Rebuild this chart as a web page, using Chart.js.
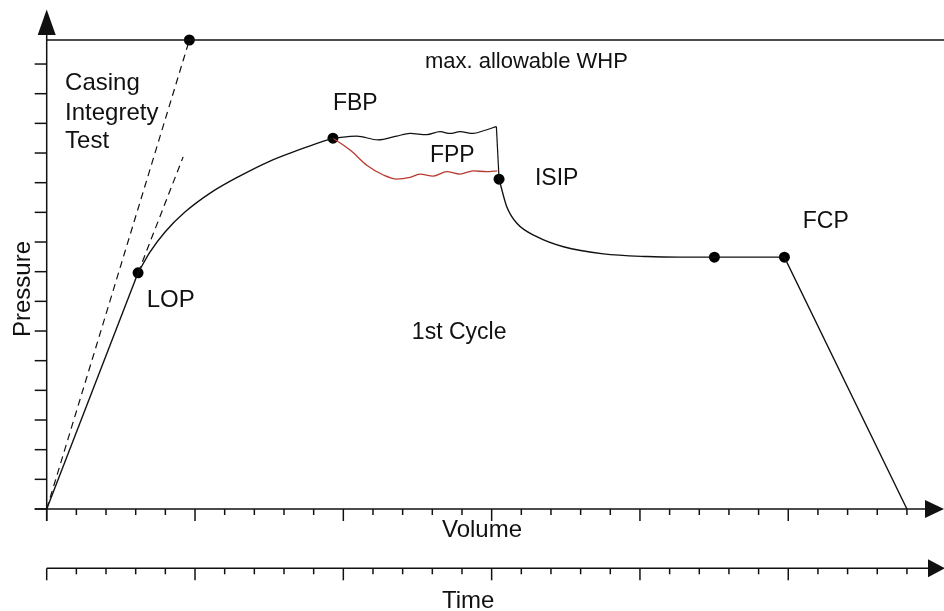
<!DOCTYPE html>
<html>
<head>
<meta charset="utf-8">
<script src="https://cdn.jsdelivr.net/npm/chart.js@4.4.0/dist/chart.umd.min.js"></script>
<style>
  html, body { margin: 0; padding: 0; background: #fff; }
  #wrap { width: 944px; height: 611px; position: relative; }
</style>
</head>
<body>
<div id="wrap"><canvas id="chart"></canvas></div>
<script>
// Schematic units: 1 unit = one minor tick on either axis
const volumeTicks = Array.from({ length: 30 }, (_, i) => i);   // 0..29
const pressureTicks = Array.from({ length: 16 }, (_, i) => i); // 0..15
const majorEvery = 5;

// Linear loading up to leak-off
const loadingX = [0, 3.08];
const loadingY = [0, 7.96];
// Leak-off to breakdown
const breakdownX = [3.08, 3.48, 3.99, 4.66, 5.51, 6.52, 7.53, 8.54, 9.21, 9.65];
const breakdownY = [7.96, 8.66, 9.34, 10.01, 10.65, 11.23, 11.73, 12.12, 12.36, 12.50];
// Propagation (upper, black wavy)
const propX = [9.65, 10.45, 11.17, 11.80, 12.25, 12.81, 13.26, 13.60, 13.93, 14.38, 14.72, 15.16];
const propY = [12.50, 12.57, 12.44, 12.57, 12.66, 12.62, 12.72, 12.66, 12.72, 12.66, 12.75, 12.89];
// Shut-in drop
const dropX = [15.16, 15.25];
const dropY = [12.89, 11.12];
// Fracture propagation pressure (red)
const fppX = [9.65, 10.23, 10.79, 11.35, 11.80, 12.25, 12.58, 13.03, 13.49, 13.93, 14.38, 14.83, 15.19];
const fppY = [12.50, 12.10, 11.59, 11.26, 11.12, 11.18, 11.29, 11.22, 11.37, 11.29, 11.40, 11.37, 11.40];
// Pressure decline after ISIP
const declineX = [15.25, 15.51, 15.85, 16.52, 17.42, 18.77, 20.23, 21.35, 22.51];
const declineY = [11.12, 10.19, 9.63, 9.18, 8.84, 8.60, 8.51, 8.49, 8.49];
// Closure plateau and flowback
const flowbackX = [22.51, 24.87, 29.0];
const flowbackY = [8.49, 8.49, 0];
// Casing integrity test line and its extension
const casingX = [0, 4.81];
const casingY = [0, 15.81];
const extensionX = [3.08, 4.6];
const extensionY = [7.96, 11.87];
// Max allowable WHP
const maxWhp = 15.81;
const maxWhpX = [0, 30.25];
// Marked points
const markerX = [3.08, 9.65, 15.25, 22.51, 24.87, 4.81];
const markerY = [7.96, 12.50, 11.12, 8.49, 8.49, 15.81];

// Text labels: [text, x, y (baseline), font size]
const labels = [
  ['max. allowable WHP', 12.75, 14.85, 22],
  ['Casing', 0.62, 14.12, 24],
  ['Integrety', 0.62, 13.11, 24],
  ['Test', 0.62, 12.16, 24],
  ['FBP', 9.65, 13.45, 23],
  ['FPP', 12.92, 11.71, 23],
  ['ISIP', 16.46, 10.92, 23],
  ['FCP', 25.49, 9.46, 23],
  ['LOP', 3.37, 6.82, 24],
  ['1st Cycle', 12.31, 5.72, 23]
];

const FONT = '"Liberation Sans", Arial, Helvetica, sans-serif';

function pts(xs, ys) {
  return xs.map((x, i) => ({ x: x, y: ys[i] }));
}

function lineSet(xs, ys, color, extra) {
  return Object.assign({
    data: pts(xs, ys),
    showLine: true,
    borderColor: color,
    borderWidth: 1.4,
    pointRadius: 0,
    tension: 0,
    clip: false
  }, extra || {});
}

function line(ctx, x1, y1, x2, y2) {
  ctx.beginPath();
  ctx.moveTo(x1, y1);
  ctx.lineTo(x2, y2);
  ctx.stroke();
}

function tri(ctx, a, b, c) {
  ctx.beginPath();
  ctx.moveTo(a[0], a[1]);
  ctx.lineTo(b[0], b[1]);
  ctx.lineTo(c[0], c[1]);
  ctx.closePath();
  ctx.fill();
}

const axesPlugin = {
  id: 'axesPlugin',
  beforeDatasetsDraw(chart) {
    const { ctx, scales: { x, y } } = chart;
    const x0 = x.getPixelForValue(0);
    const y0 = y.getPixelForValue(0);
    const timeY = y0 + 59.3;
    ctx.save();
    ctx.strokeStyle = '#111';
    ctx.fillStyle = '#111';
    ctx.lineWidth = 1.5;

    // y axis with arrow
    line(ctx, x0, y0 + 12, x0, 34);
    tri(ctx, [x0, 9.5], [x0 - 9, 35], [x0 + 9, 35]);
    pressureTicks.forEach(v => {
      const py = y.getPixelForValue(v);
      line(ctx, x0 - 12, py, x0, py);
    });

    // volume axis
    line(ctx, x0 - 12, y0, 926, y0);
    tri(ctx, [944, y0], [925, y0 - 9], [925, y0 + 9]);
    volumeTicks.forEach(v => {
      const px = x.getPixelForValue(v);
      line(ctx, px, y0, px, y0 + (v % majorEvery === 0 ? 12 : 6));
    });

    // time axis
    line(ctx, x0, timeY, 930, timeY);
    tri(ctx, [945, timeY], [928, timeY - 9], [928, timeY + 9]);
    volumeTicks.forEach(v => {
      const px = x.getPixelForValue(v);
      line(ctx, px, timeY, px, timeY + (v % majorEvery === 0 ? 12 : 6));
    });

    // axis titles
    ctx.font = '24px ' + FONT;
    ctx.textBaseline = 'alphabetic';
    ctx.textAlign = 'left';
    ctx.fillText('Volume', 442, 536.5);
    ctx.fillText('Time', 442, 608);
    ctx.save();
    ctx.translate(30, 289);
    ctx.rotate(-Math.PI / 2);
    ctx.textAlign = 'center';
    ctx.fillText('Pressure', 0, 0);
    ctx.restore();
    ctx.restore();
  },
  afterDatasetsDraw(chart) {
    const { ctx, scales: { x, y } } = chart;
    ctx.save();
    ctx.fillStyle = '#111';
    ctx.textBaseline = 'alphabetic';
    ctx.textAlign = 'left';
    labels.forEach(([t, lx, ly, size]) => {
      ctx.font = size + 'px ' + FONT;
      ctx.fillText(t, x.getPixelForValue(lx), y.getPixelForValue(ly));
    });
    ctx.restore();
  }
};

new Chart(document.getElementById('chart'), {
  type: 'scatter',
  data: {
    datasets: [
      lineSet(maxWhpX, [maxWhp, maxWhp], '#111', { borderWidth: 1.5 }),
      lineSet(casingX, casingY, '#111', { borderDash: [7, 5], borderWidth: 1.2 }),
      lineSet(extensionX, extensionY, '#111', { borderDash: [7, 5], borderWidth: 1.2 }),
      lineSet(loadingX, loadingY, '#111'),
      lineSet(breakdownX, breakdownY, '#111', { cubicInterpolationMode: 'monotone' }),
      lineSet(propX, propY, '#111', { cubicInterpolationMode: 'monotone', borderWidth: 1.2 }),
      lineSet(dropX, dropY, '#111', { borderWidth: 1.2 }),
      lineSet(fppX, fppY, '#b83a30', { cubicInterpolationMode: 'monotone', borderWidth: 1.3 }),
      lineSet(declineX, declineY, '#111', { cubicInterpolationMode: 'monotone' }),
      lineSet(flowbackX, flowbackY, '#111'),
      {
        data: pts(markerX, markerY),
        showLine: false,
        pointRadius: 5.5,
        pointBackgroundColor: '#000',
        pointBorderColor: '#000',
        pointBorderWidth: 0,
        clip: false
      }
    ]
  },
  options: {
    responsive: true,
    maintainAspectRatio: false,
    animation: false,
    events: [],
    layout: { autoPadding: false, padding: { left: 46.7, right: 0, top: 4.7, bottom: 102 } },
    plugins: {
      legend: { display: false },
      tooltip: { enabled: false },
      title: { display: false }
    },
    scales: {
      x: { type: 'linear', min: 0, max: 30.25, display: false },
      y: { type: 'linear', min: 0, max: 17, display: false }
    }
  },
  plugins: [axesPlugin]
});
</script>
</body>
</html>
